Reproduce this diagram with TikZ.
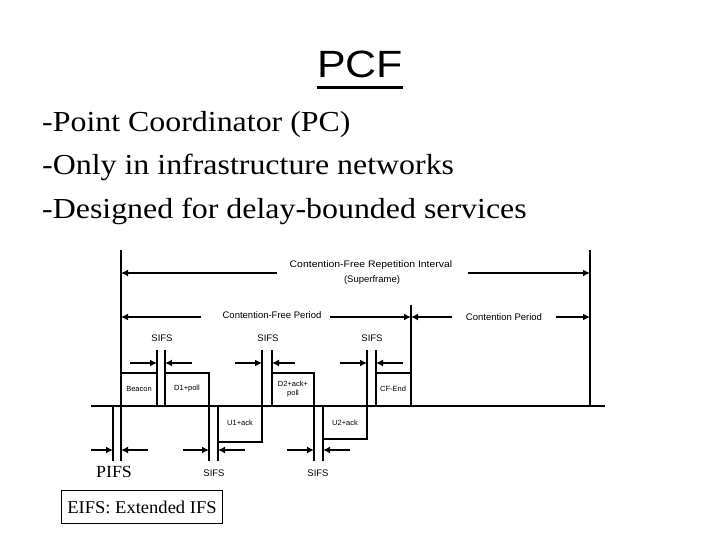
\documentclass[tikz,border=0pt]{standalone}
\usepackage{fontspec}
\setmainfont{Liberation Serif}
\setsansfont{Liberation Sans}
\usetikzlibrary{arrows.meta}
\newcommand{\hstretch}[2]{\scalebox{#1}[1]{#2}}
\begin{document}
\begin{tikzpicture}[x=1pt,y=-1pt,
  ln/.style={line width=2pt},
  arr/.style={line width=2pt,-{Latex[length=7pt,width=7pt]}},
  lbl/.style={font=\sffamily\fontsize{9.5}{11}\selectfont, inner sep=0pt},
  boxlbl/.style={font=\sffamily\fontsize{7.5}{9}\selectfont, inner sep=0pt, align=center},
  bullet/.style={font=\fontsize{29}{33}\selectfont, inner sep=0pt, anchor=base west}]
\useasboundingbox (0,0) rectangle (720,540);

% title
\node[inner sep=0pt, anchor=base, font=\sffamily\fontsize{38}{44}\selectfont] (title) at (360,78) {\hstretch{1.13}{PCF}};
\draw[line width=2.6pt] (317,87.5) -- (403,87.5);

% bullet lines
\node[bullet] (b1) at (42,131.5) {\hstretch{1.1}{-Point Coordinator (PC)}};
\node[bullet] (b2) at (42,175) {\hstretch{1.1}{-Only in infrastructure networks}};
\node[bullet] (b3) at (42,218.5) {\hstretch{1.1}{-Designed for delay-bounded services}};

% baseline
\draw[ln] (91,406) -- (605,406);

% main verticals
\draw[ln] (121,250) -- (121,461);
\draw[ln] (590,250) -- (590,406);
\draw[ln] (113,406) -- (113,461);

% Beacon
\draw[ln] (121,373) -- (157,373);
\draw[ln] (157,350) -- (157,406);
% D1+poll
\draw[ln] (165,350) -- (165,406);
\draw[ln] (165,373) -- (209,373) -- (209,461);
% U1+ack
\draw[ln] (218,406) -- (218,461);
\draw[ln] (218,442) -- (262,442) -- (262,350);
% D2+ack+poll
\draw[ln] (272,350) -- (272,406);
\draw[ln] (272,373) -- (314,373) -- (314,461);
% U2+ack
\draw[ln] (323,406) -- (323,461);
\draw[ln] (323,439) -- (367,439) -- (367,350);
% CF-End
\draw[ln] (376,350) -- (376,406);
\draw[ln] (376,373) -- (411,373);
\draw[ln] (411,305) -- (411,406);

% top arrows
\draw[arr] (277,273) -- (121,273);
\draw[arr] (468,273) -- (590,273);
\node[lbl] (cfri) at (371,265) {\hstretch{1.1}{Contention-Free Repetition Interval}};
\node[lbl] (sf) at (372,280.5) {(Superframe)};

% period arrows
\draw[arr] (201,317) -- (121,317);
\draw[arr] (330,317) -- (411,317);
\node[lbl] (cfp) at (272,315) {Contention-Free Period};
\draw[arr] (452,317) -- (411,317);
\draw[arr] (556,317) -- (590,317);
\node[lbl] (cp) at (504,317) {Contention Period};

% upper SIFS
\draw[arr] (130,363) -- (157,363);
\draw[arr] (192,363) -- (165,363);
\draw[arr] (235,363) -- (262,363);
\draw[arr] (295,363) -- (272,363);
\draw[arr] (340,363) -- (367,363);
\draw[arr] (403,363) -- (376,363);
\node[lbl] (s1) at (162,338) {SIFS};
\node[lbl] (s2) at (268,338) {SIFS};
\node[lbl] (s3) at (372,338) {SIFS};

% lower arrows
\draw[arr] (91,450) -- (113,450);
\draw[arr] (148,450) -- (121,450);
\draw[arr] (183,450) -- (209,450);
\draw[arr] (245,450) -- (218,450);
\draw[arr] (287,450) -- (314,450);
\draw[arr] (350,450) -- (323,450);
\node[inner sep=0pt, font=\fontsize{17}{19}\selectfont] (pifs) at (114,472) {\hstretch{1.05}{PIFS}};
\node[lbl] (s4) at (214,473) {SIFS};
\node[lbl] (s5) at (318,473) {SIFS};

% box labels
\node[boxlbl] (beacon) at (139,389) {Beacon};
\node[boxlbl] (d1) at (187,389) {D1+poll};
\node[boxlbl] (d2) at (293,389) {D2+ack+\\[0pt]poll};
\node[boxlbl] (u1) at (240,423) {U1+ack};
\node[boxlbl] (u2) at (345,423) {U2+ack};
\node[boxlbl] (cfend) at (393,389) {CF-End};

% EIFS box
\node[draw, line width=0.9pt, minimum width=161pt, minimum height=33pt, inner sep=0pt, font=\fontsize{18}{20}\selectfont] (eifs) at (142,507) {\hstretch{1.03}{EIFS: Extended IFS}};
\end{tikzpicture}
\end{document}
